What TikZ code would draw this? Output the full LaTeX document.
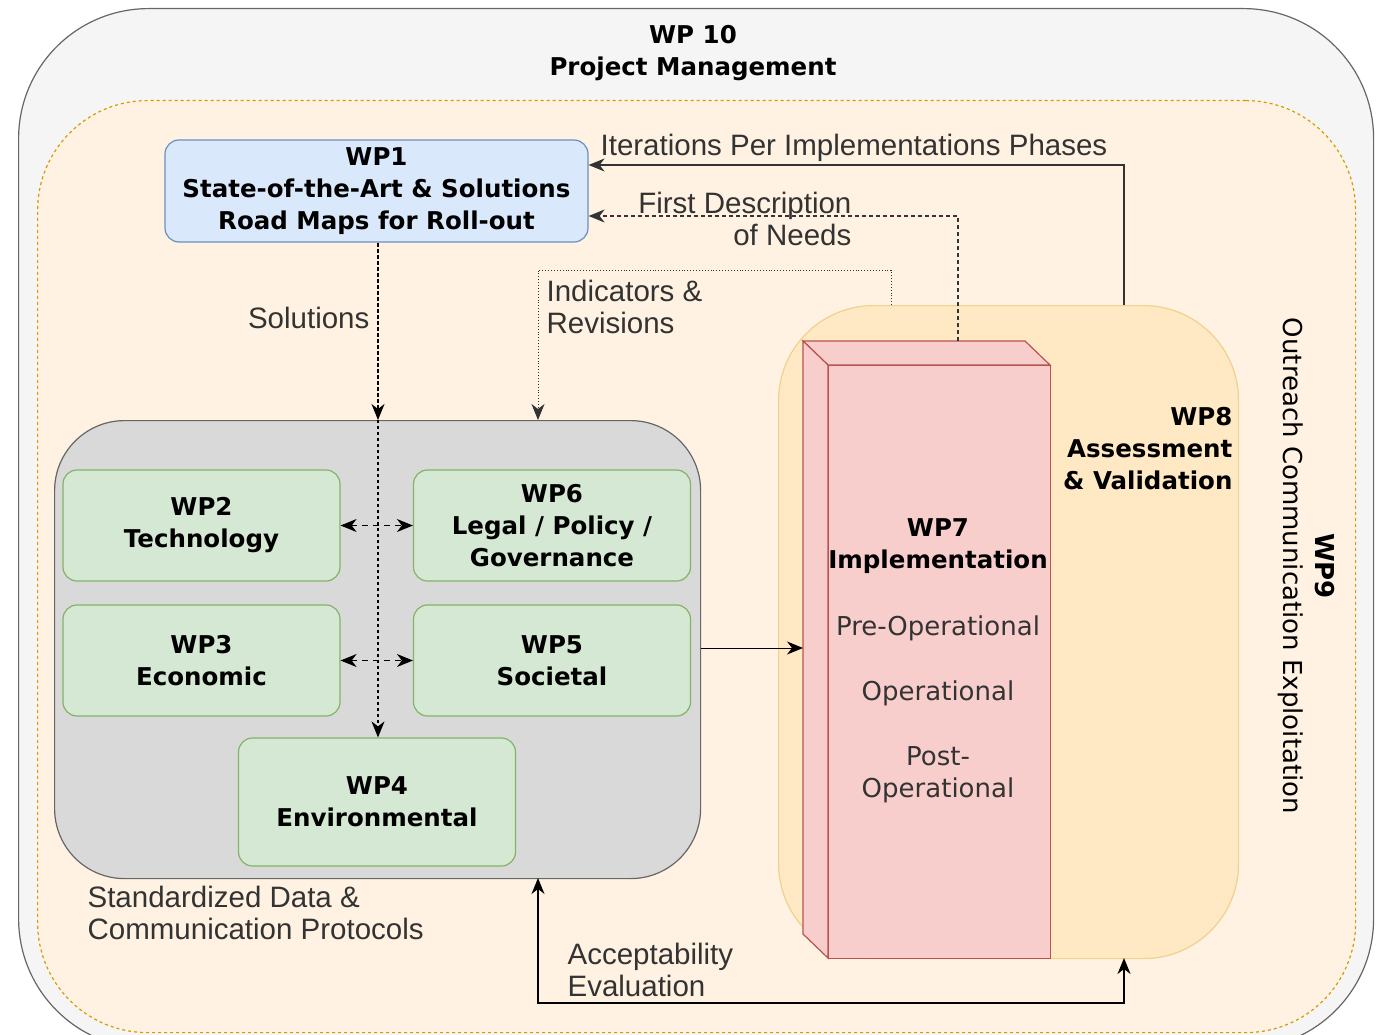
\documentclass[tikz,border=0pt]{standalone}
\usepackage{fontspec}
\setmainfont{Liberation Sans}
\newfontfamily\boxfont{DejaVu Sans}
\usetikzlibrary{arrows.meta,calc}
\definecolor{mgmtfill}{HTML}{F5F5F5}
\definecolor{mgmtline}{HTML}{666666}
\definecolor{outfill}{HTML}{FFF2E2}
\definecolor{outline}{HTML}{D79B00}
\definecolor{corefill}{HTML}{D9D9D9}
\definecolor{wpgreen}{HTML}{D5E8D4}
\definecolor{wpgreenline}{HTML}{82B366}
\definecolor{wpblue}{HTML}{DAE8FC}
\definecolor{wpblueline}{HTML}{6C8EBF}
\definecolor{evalfill}{HTML}{FFE8C4}
\definecolor{evalline}{HTML}{EED38E}
\definecolor{implfill}{HTML}{F8CECC}
\definecolor{implline}{HTML}{B85450}
\definecolor{lbltext}{HTML}{333333}

\begin{document}
\begin{tikzpicture}[x=1pt,y=-1pt,
    font=\fontsize{29.5}{32}\selectfont,
    bold/.style={font=\boxfont\bfseries\fontsize{24.5}{32}\selectfont},
    plain/.style={font=\boxfont\fontsize{26}{32}\selectfont},
    wp/.style={draw, rounded corners=14pt, align=center, inner sep=0pt, bold},
    greenbox/.style={wp, fill=wpgreen, draw=wpgreenline, minimum width=277pt, minimum height=111pt},
    lbl/.style={inner sep=0pt, align=left, text=lbltext},
    onehead/.style={-{Stealth[length=16pt,width=13pt,inset=5pt]}},
    twoheads/.style={{Stealth[length=16pt,width=13pt,inset=5pt]}-{Stealth[length=16pt,width=13pt,inset=5pt]}},
    line width=1.2pt]
  \useasboundingbox (0,0) rectangle (1383,1035);

  % WP10 and WP9 frames
  \node[draw=mgmtline, fill=mgmtfill, rounded corners=130pt, minimum width=1355pt, minimum height=1040pt, anchor=north west] (wpten) at (18,8) {};
  \node[bold, align=center] (wptentitle) at (693,53) {WP 10\\Project Management};
  \node[draw=outline, fill=outfill, dashed, rounded corners=110pt, minimum width=1318pt, minimum height=932pt, anchor=north west] (wpnine) at (37,100) {};
  \node[rotate=-90, align=center, plain] (wpninetitle) at (1306,566) {\textbf{WP9}\\Outreach Communication Exploitation};

  % WP8 and WP7
  \node[draw=evalline, fill=evalfill, rounded corners=95pt, minimum width=460pt, minimum height=653pt, anchor=north west] (wpeight) at (778,305) {};
  \node[bold, align=right, anchor=north east, inner sep=0pt] (wpeighttitle) at (1233,407) {WP8\\Assessment\\\& Validation};
  \begin{scope}[draw=implline, fill=implfill]
    \filldraw (803,341) -- (1025,341) -- (1050,365) -- (828,365) -- cycle;
    \filldraw (803,341) -- (828,365) -- (828,958) -- (803,934) -- cycle;
  \end{scope}
  \node[draw=implline, fill=implfill, minimum width=222pt, minimum height=593pt, anchor=north west, inner sep=0pt] (wpseven) at (828,365) {};
  \node[bold, align=center] (wpseventitle) at (938,546) {WP7\\Implementation};
  \node[plain, align=center, text=lbltext] (phases) at (938,709) {Pre-Operational\\[33pt]Operational\\[33pt]Post-\\Operational};

  % WP1
  \node[wp, fill=wpblue, draw=wpblueline, minimum width=423pt, minimum height=102pt] (wpone) at (376.5,191) {WP1\\State-of-the-Art \& Solutions\\Road Maps for Roll-out};

  % core work packages
  \node[draw=mgmtline, fill=corefill, rounded corners=70pt, minimum width=646pt, minimum height=458pt, anchor=north west] (core) at (54,420) {};
  \node[greenbox] (wptwo) at (201.5,525.5) {WP2\\Technology};
  \node[greenbox] (wpsix) at (552,525.5) {WP6\\Legal / Policy /\\Governance};
  \node[greenbox] (wpthree) at (201.5,660.5) {WP3\\Economic};
  \node[greenbox] (wpfive) at (552,660.5) {WP5\\Societal};
  \node[greenbox, minimum height=128pt] (wpfour) at (377,802) {WP4\\Environmental};

  % connectors
  \coordinate (hub) at (378,420);
  \draw[onehead, dash pattern=on 4pt off 2pt] (wpone.south -| hub) -- (hub);
  \draw[onehead, dash pattern=on 3pt off 3pt] (hub) -- (hub |- wpfour.north);
  \draw[twoheads, dash pattern=on 6pt off 5pt, line width=1pt] (wptwo.east) -- (wpsix.west);
  \draw[twoheads, dash pattern=on 6pt off 5pt, line width=1pt] (wpthree.east) -- (wpfive.west);
  \draw[onehead, line width=1pt] (core.east |- 0,648) -- (803,648);

  \coordinate (ind) at (891,305);
  \draw[onehead, lbltext, dotted, line width=0.9pt] (ind) -- (891,270) -- (538,270) -- (538,420);
  \coordinate (needs) at (958,341);
  \draw[onehead, lbltext, dash pattern=on 4pt off 3pt, line width=1.5pt] (needs) -- (958,216) -- (wpone.east |- 0,216);
  \coordinate (iter) at (1124,305);
  \draw[onehead, lbltext, line width=1.5pt] (iter) -- (1124,165) -- (wpone.east |- 0,165);
  \coordinate (acc) at (1124,958);
  \draw[twoheads, line width=1.5pt] (538,878) -- (538,1003) -- (1124,1003) -- (acc);

  % labels
  \node[lbl, anchor=east] (solutions) at (370,318) {Solutions};
  \node[lbl, anchor=west] (indicators) at (546,307) {Indicators \&\\Revisions};
  \node[lbl, anchor=west] (iterations) at (600,148) {Iterations Per Implementations Phases};
  \node[lbl, anchor=east, align=right] (firstdesc) at (852,219) {First Description\\of Needs};
  \node[lbl, anchor=west] (protocols) at (87,913) {Standardized Data \&\\Communication Protocols};
  \node[lbl, anchor=west] (acceptability) at (567,970) {Acceptability\\Evaluation};
\end{tikzpicture}
\end{document}
